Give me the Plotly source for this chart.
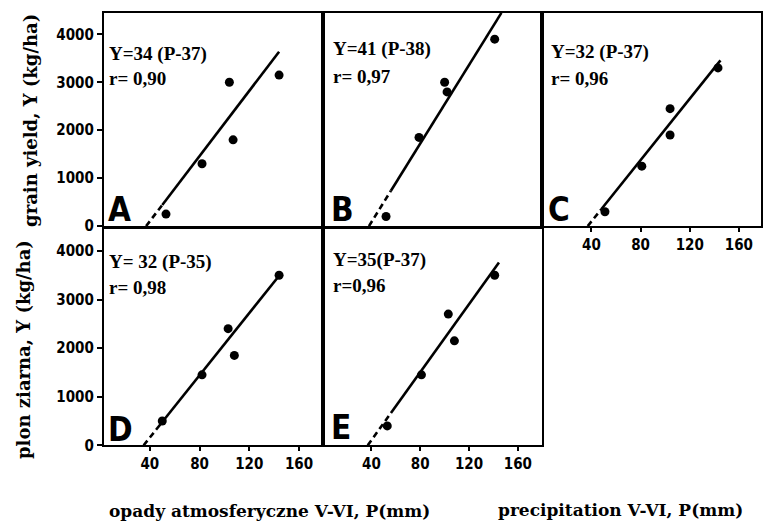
import plotly.graph_objects as go

# ---------------- data ----------------
panel_letters = ["A", "B", "C", "D", "E"]

precip_A = [53, 82, 104, 107, 144]
yield_A = [250, 1300, 3000, 1800, 3150]
precip_B = [52, 79, 100, 102, 141]
yield_B = [200, 1850, 3000, 2800, 3900]
precip_C = [51, 81, 104, 104, 143]
yield_C = [300, 1250, 2450, 1900, 3300]
precip_D = [50, 82, 103, 108, 144]
yield_D = [500, 1450, 2400, 1850, 3500]
precip_E = [53, 81, 103, 108, 141]
yield_E = [400, 1450, 2700, 2150, 3500]

slopes = [34, 41, 32, 32, 35]          # Y = a (P - P0)
p_zero = [37, 38, 37, 35, 37]
dash_end = [50, 56, 48, 45, 56]        # extrapolated (dashed) part ends here
line_end = [144, 146.5, 145, 144.5, 144.5]

eq_labels = ["Y=34 (P-37)", "Y=41 (P-38)", "Y=32 (P-37)", "Y= 32 (P-35)", "Y=35(P-37)"]
r_labels = ["r= 0,90", "r= 0,97", "r= 0,96", "r= 0,98", "r=0,96"]

x_ticks = [40, 80, 120, 160]
y_ticks = [0, 1000, 2000, 3000, 4000]

ytitle_top = "grain yield, Y (kg/ha)"
ytitle_bottom = "plon ziarna, Y (kg/ha)"
xtitle_pl = "opady atmosferyczne V-VI, P(mm)"
xtitle_en = "precipitation V-VI, P(mm)"

precips = [precip_A, precip_B, precip_C, precip_D, precip_E]
yields = [yield_A, yield_B, yield_C, yield_D, yield_E]

# ---------------- layout geometry ----------------
W, H = 763, 532
def fx(px):
    return px / W
def fy(py):
    return 1 - py / H

cols = [(104, 323), (323, 543), (543, 762)]
rows = [(13, 230), (233, 453)]
xranges = [[3, 179], [0, 180], [0, 178]]
# panel -> (col, row)
pos = [(0, 0), (1, 0), (2, 0), (0, 1), (1, 1)]
show_xlabels = [False, False, True, True, True]
show_ylabels = [True, False, False, True, False]

TICK_FONT = dict(family="DejaVu Sans Condensed, Liberation Sans Narrow, DejaVu Sans", size=15,
                 color="black", weight="bold")
TEXT_FONT = dict(family="Liberation Serif, DejaVu Serif, serif", size=19, color="black", weight="bold")
YTITLE_FONT = dict(family="DejaVu Serif, Liberation Serif, serif", size=18, color="black", weight="bold")
XTITLE_FONT = dict(family="DejaVu Serif, Liberation Serif, serif", size=17, color="black", weight="bold")
LETTER_FONT = dict(family="DejaVu Sans Condensed, Liberation Sans Narrow, DejaVu Sans", size=33,
                   color="black", weight="bold")

fig = go.Figure()
layout = dict(width=W, height=H, margin=dict(l=0, r=0, t=0, b=0),
              paper_bgcolor="white", plot_bgcolor="white", showlegend=False)
annotations = []

for i in range(5):
    c, r = pos[i]
    xa = "x" if i == 0 else f"x{i+1}"
    ya = "y" if i == 0 else f"y{i+1}"
    a, p0 = slopes[i], p_zero[i]
    # dashed extrapolation
    fig.add_trace(go.Scatter(x=[p0, dash_end[i]], y=[0, a * (dash_end[i] - p0)],
                             mode="lines", line=dict(color="black", width=2.6, dash="6px,4px"),
                             xaxis=xa, yaxis=ya, hoverinfo="skip"))
    # solid regression line
    fig.add_trace(go.Scatter(x=[dash_end[i], line_end[i]],
                             y=[a * (dash_end[i] - p0), a * (line_end[i] - p0)],
                             mode="lines", line=dict(color="black", width=2.6),
                             xaxis=xa, yaxis=ya, hoverinfo="skip"))
    # observed points
    fig.add_trace(go.Scatter(x=precips[i], y=yields[i], mode="markers",
                             marker=dict(color="black", size=9),
                             xaxis=xa, yaxis=ya, cliponaxis=False))

    x0, x1 = cols[c]
    y0, y1 = rows[r]
    xkey = "xaxis" if i == 0 else f"xaxis{i+1}"
    ykey = "yaxis" if i == 0 else f"yaxis{i+1}"
    layout[xkey] = dict(domain=[fx(x0), fx(x1)], range=xranges[c], anchor=ya,
                        showline=True, mirror=True, linecolor="black", linewidth=2,
                        showgrid=False, zeroline=False,
                        tickvals=x_ticks if show_xlabels[i] else [],
                        ticks="outside" if show_xlabels[i] else "", ticklen=4, tickwidth=2,
                        tickcolor="black", showticklabels=show_xlabels[i], tickfont=TICK_FONT)
    layout[ykey] = dict(domain=[fy(y1), fy(y0)], range=[0, 4450], anchor=xa,
                        showline=True, mirror=True, linecolor="black", linewidth=2,
                        showgrid=False, zeroline=False,
                        tickvals=y_ticks if show_ylabels[i] else [],
                        ticks="outside" if show_ylabels[i] else "", ticklen=5, tickwidth=2,
                        tickcolor="black", showticklabels=show_ylabels[i], tickfont=TICK_FONT)

# equation / r labels and panel letters (positioned in pixels)
eq_pos = [(107, 55, 80), (331, 50, 78), (550, 53, 80), (107, 267, 292), (331, 264, 290)]
letter_pos = [(106, 213), (329, 213), (547, 213), (106, 437), (329, 435)]
for i in range(5):
    px, py1, py2 = eq_pos[i]
    annotations.append(dict(text=eq_labels[i], x=fx(px), y=fy(py1), xref="paper", yref="paper",
                            xanchor="left", yanchor="middle", showarrow=False, font=TEXT_FONT))
    annotations.append(dict(text=r_labels[i], x=fx(px), y=fy(py2), xref="paper", yref="paper",
                            xanchor="left", yanchor="middle", showarrow=False, font=TEXT_FONT))
    lx, ly = letter_pos[i]
    annotations.append(dict(text=panel_letters[i], x=fx(lx), y=fy(ly), xref="paper", yref="paper",
                            xanchor="left", yanchor="middle", showarrow=False, font=LETTER_FONT))

annotations.append(dict(text=ytitle_top, x=fx(31), y=fy(122), xref="paper", yref="paper",
                        textangle=-90, showarrow=False, font=YTITLE_FONT,
                        xanchor="center", yanchor="middle"))
annotations.append(dict(text=ytitle_bottom, x=fx(24), y=fy(355), xref="paper", yref="paper",
                        textangle=-90, showarrow=False, font=YTITLE_FONT,
                        xanchor="center", yanchor="middle"))
annotations.append(dict(text=xtitle_pl, x=fx(107), y=fy(520), xref="paper", yref="paper",
                        xanchor="left", yanchor="middle", showarrow=False, font=XTITLE_FONT))
annotations.append(dict(text=xtitle_en, x=fx(497), y=fy(519), xref="paper", yref="paper",
                        xanchor="left", yanchor="middle", showarrow=False, font=XTITLE_FONT))

layout["annotations"] = annotations
fig.update_layout(**layout)
fig.write_html("out.html")
